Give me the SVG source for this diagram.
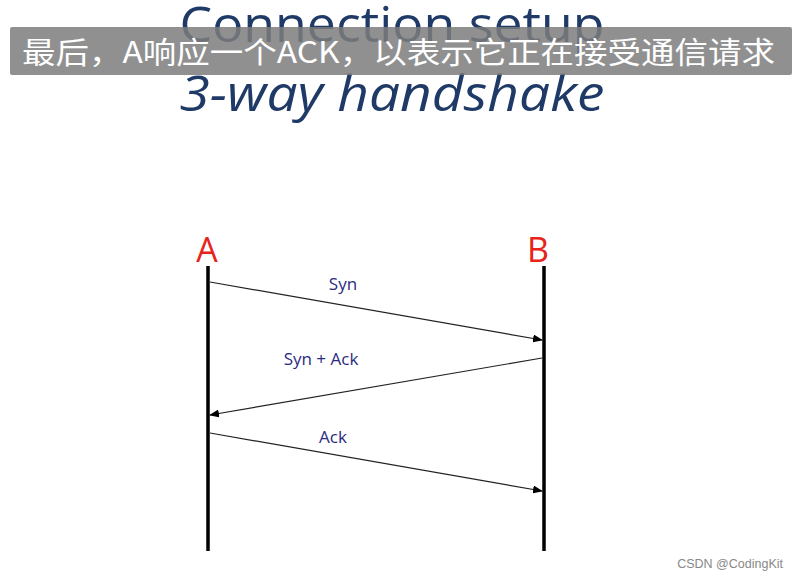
<svg xmlns="http://www.w3.org/2000/svg" width="798" height="580" viewBox="0 0 798 580">
<style>
.title{font-family:"Open Sans","Liberation Sans",sans-serif;fill:#1f3a66;}
.actor{font-family:"Open Sans","Liberation Sans",sans-serif;fill:#e8231c;font-size:34px;}
.lbl{font-family:"Open Sans","Liberation Sans",sans-serif;fill:#2b2b80;font-size:17px;}
.life{stroke:#000;stroke-width:3.5;}
.msg{stroke:#222;stroke-width:1.2;fill:none;marker-end:url(#ah);}
</style>
<defs>
<marker id="ah" markerWidth="10" markerHeight="8" refX="9" refY="4" orient="auto" markerUnits="userSpaceOnUse">
<path d="M0,0 L10,4 L0,8 Z" fill="#000"/>
</marker>
</defs>
<rect width="798" height="580" fill="#fff"/>
<text class="title" x="392" y="42" font-size="50" text-anchor="middle" textLength="425" lengthAdjust="spacingAndGlyphs">Connection setup</text>
<text class="title" x="392" y="111" font-size="50" font-style="italic" text-anchor="middle" textLength="425" lengthAdjust="spacingAndGlyphs">3-way handshake</text>
<g id="banner">
<rect x="10" y="27" width="782" height="48" rx="2" fill="#7d7d7d" fill-opacity="0.85"/>
<text x="22" y="63" font-family="Noto Sans CJK SC, sans-serif" font-size="30" fill="#fff" textLength="753" lengthAdjust="spacingAndGlyphs">最后，A响应一个ACK，以表示它正在接受通信请求</text>
</g>
<g id="A">
<text class="actor" x="207" y="262" text-anchor="middle">A</text>
<line class="life" x1="208" y1="266" x2="208" y2="551"/>
</g>
<g id="B">
<text class="actor" x="538" y="262" text-anchor="middle">B</text>
<line class="life" x1="544" y1="266" x2="544" y2="551"/>
</g>
<g id="connectors">
<line class="msg" x1="210" y1="282" x2="542" y2="340"/>
<line class="msg" x1="542" y1="358" x2="210" y2="415"/>
<line class="msg" x1="210" y1="433" x2="542" y2="491"/>
</g>
<text class="lbl" x="343" y="290" text-anchor="middle">Syn</text>
<text class="lbl" x="321" y="365" text-anchor="middle">Syn + Ack</text>
<text class="lbl" x="333" y="443" text-anchor="middle">Ack</text>
<text x="783" y="568" font-family="Liberation Sans, sans-serif" font-size="12.5" fill="#888" text-anchor="end">CSDN @CodingKit</text>
</svg>
